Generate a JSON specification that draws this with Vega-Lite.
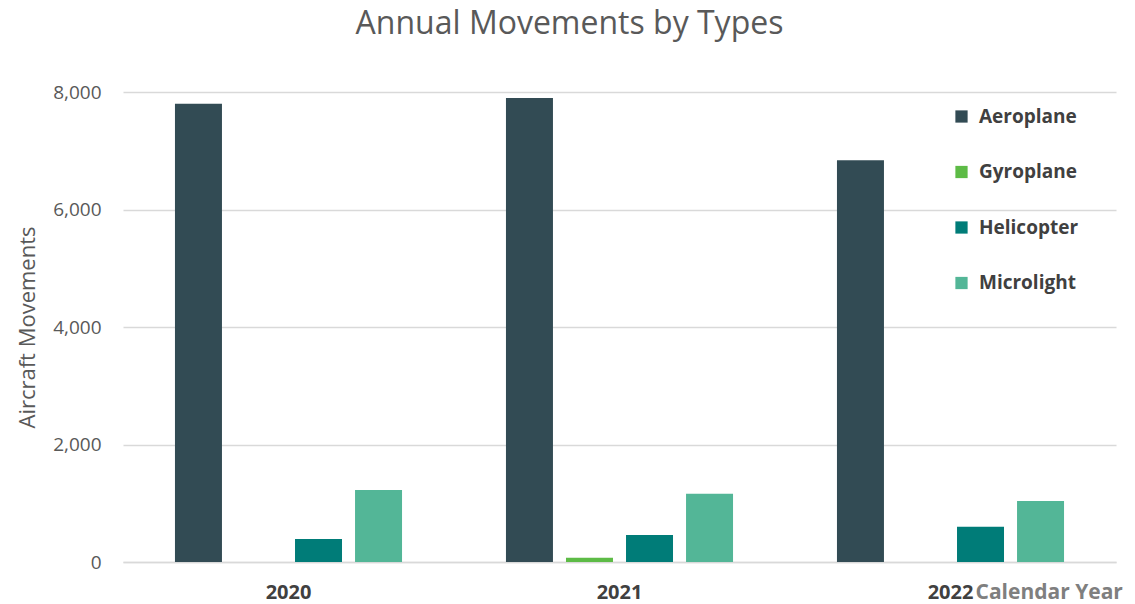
{
  "$schema": "https://vega.github.io/schema/vega-lite/v6.json",
  "width": 993,
  "height": 470,
  "autosize": {"type": "none"},
  "padding": {"left": 123, "top": 92, "right": 19, "bottom": 42},
  "background": "white",
  "title": {
    "text": "Annual Movements by Types",
    "font": "Open Sans",
    "fontSize": 32,
    "fontWeight": "normal",
    "color": "#595959",
    "anchor": "middle",
    "dx": -50,
    "offset": 42
  },
  "config": {
    "view": {"stroke": null},
    "font": "Open Sans"
  },
  "data": {
    "values": [
      {"year": "2020", "type": "Aeroplane", "movements": 7800},
      {"year": "2020", "type": "Gyroplane", "movements": 0},
      {"year": "2020", "type": "Helicopter", "movements": 390},
      {"year": "2020", "type": "Microlight", "movements": 1225},
      {"year": "2021", "type": "Aeroplane", "movements": 7900},
      {"year": "2021", "type": "Gyroplane", "movements": 72},
      {"year": "2021", "type": "Helicopter", "movements": 460},
      {"year": "2021", "type": "Microlight", "movements": 1160},
      {"year": "2022", "type": "Aeroplane", "movements": 6840},
      {"year": "2022", "type": "Gyroplane", "movements": 0},
      {"year": "2022", "type": "Helicopter", "movements": 600},
      {"year": "2022", "type": "Microlight", "movements": 1038}
    ]
  },
  "mark": {"type": "bar"},
  "encoding": {
    "x": {
      "field": "year",
      "type": "nominal",
      "scale": {"paddingInner": 0.314, "paddingOuter": 0.157},
      "axis": {
        "title": "Calendar Year",
        "titleX": 852,
        "titleY": 36,
        "titleAlign": "left",
        "titleBaseline": "alphabetic",
        "titleAnchor": null,
        "titleFontSize": 21,
        "titleFontWeight": "bold",
        "titleColor": "#7f7f7f",
        "labelAngle": 0,
        "labelFontSize": 20,
        "labelFontWeight": "bold",
        "labelColor": "#404040",
        "labelPadding": 20,
        "ticks": false,
        "domainColor": "#d9d9d9",
        "domainWidth": 1.5,
        "grid": false
      }
    },
    "xOffset": {
      "field": "type",
      "type": "nominal",
      "scale": {"paddingInner": 0.217, "paddingOuter": 0}
    },
    "y": {
      "field": "movements",
      "type": "quantitative",
      "scale": {"domain": [0, 8000], "nice": false},
      "axis": {
        "title": "Aircraft Movements",
        "titleFontSize": 22,
        "titleFontWeight": "normal",
        "titleColor": "#595959",
        "titleX": -84,
        "values": [0, 2000, 4000, 6000, 8000],
        "format": ",d",
        "labelFontSize": 19,
        "labelColor": "#595959",
        "labelPadding": 22,
        "ticks": false,
        "domain": false,
        "gridColor": "#d9d9d9",
        "gridWidth": 1.5
      }
    },
    "color": {
      "field": "type",
      "type": "nominal",
      "scale": {
        "domain": ["Aeroplane", "Gyroplane", "Helicopter", "Microlight"],
        "range": ["#324b54", "#5dbb46", "#007c78", "#53b697"]
      },
      "legend": {
        "title": null,
        "orient": "none",
        "legendX": 829,
        "legendY": 15,
        "symbolType": "square",
        "symbolSize": 150,
        "symbolStrokeWidth": 0,
        "labelFontSize": 19,
        "labelFontWeight": "bold",
        "labelColor": "#404040",
        "labelOffset": 8,
        "rowPadding": 35.5
      }
    }
  }
}
